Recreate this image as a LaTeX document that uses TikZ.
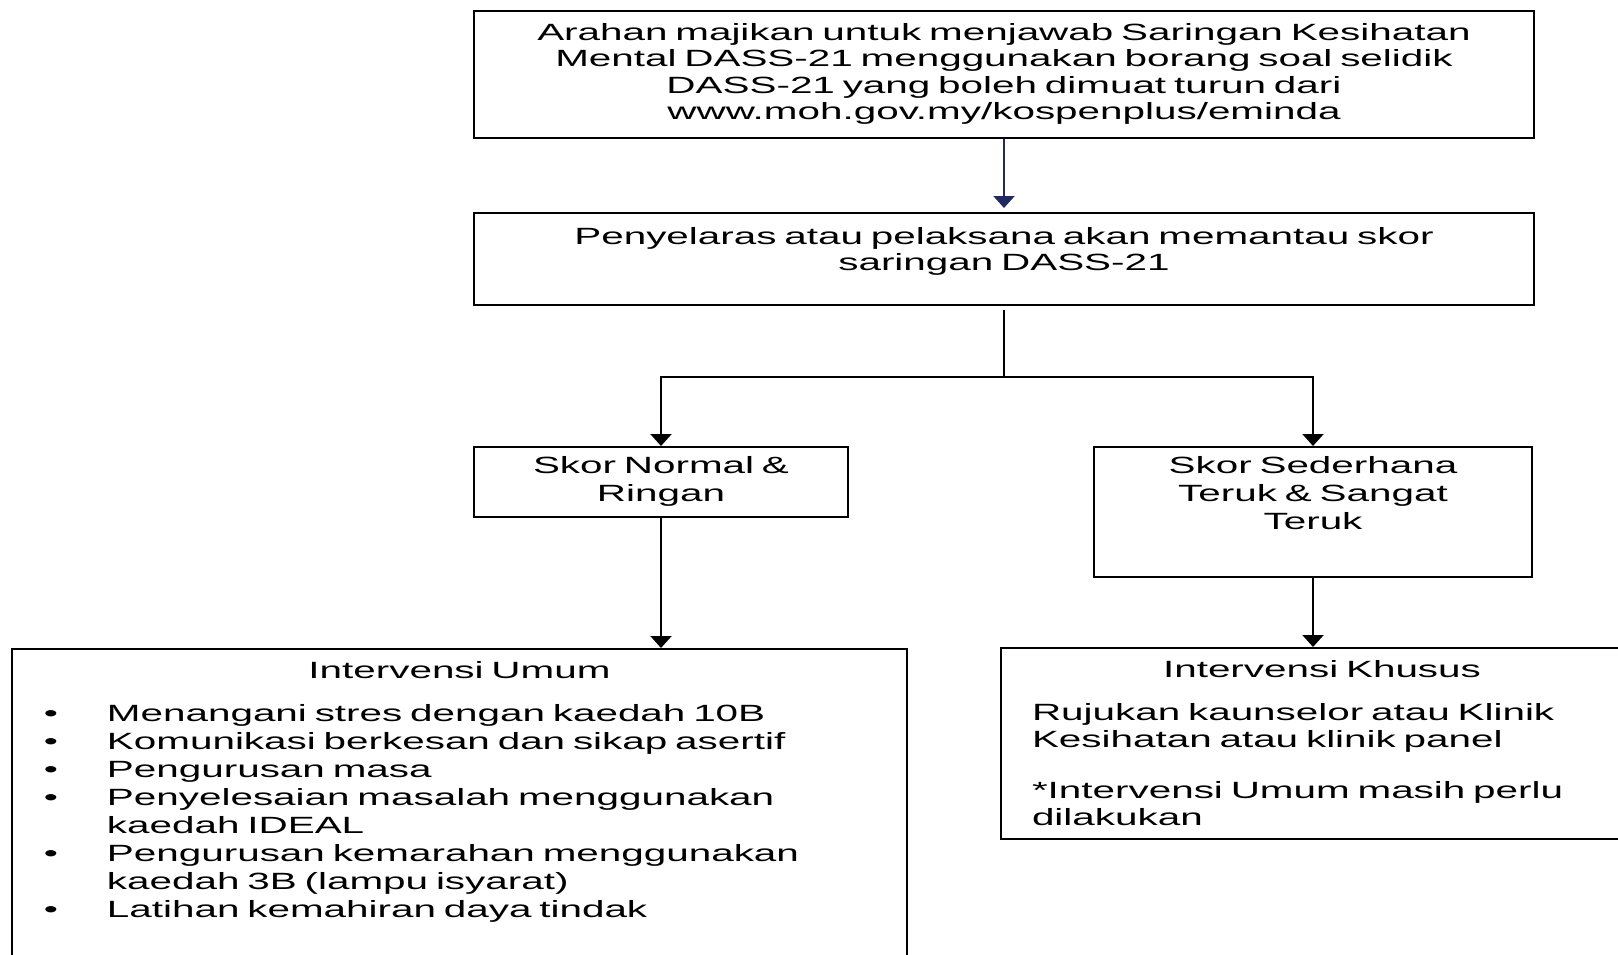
\documentclass[tikz,border=0pt]{standalone}
\usepackage{fontspec}
\setmainfont[FakeStretch=1.72]{Liberation Sans}
\usetikzlibrary{arrows.meta}
\definecolor{birugelap}{RGB}{32,42,96}
\newcommand{\butir}{\hspace*{32pt}\makebox[63pt][l]{\textbullet}}
\newcommand{\sambung}{\hspace*{95pt}}

\begin{document}
\begin{tikzpicture}[x=1pt, y=-1pt, font=\fontsize{23.5}{26.5}\selectfont,
  kotak/.style={draw, line width=2pt, inner sep=0pt, anchor=north},
  panah/.style={arrows=-{Stealth[inset=0pt, length=12pt, width=21pt]}, line width=2.2pt}]
\useasboundingbox (0,0) rectangle (1618,954);
\clip (0,0) rectangle (1618,954);
\node  (1)[kotak, text width=1060pt, align=center, text height=29pt, text depth=98pt] at (1004,10) {Arahan majikan untuk menjawab Saringan Kesihatan\\ Mental DASS-21 menggunakan borang soal selidik\\ DASS-21 yang boleh dimuat turun dari\\ www.moh.gov.my/kospenplus/eminda};
\node  (2)[kotak, text width=1060pt, align=center, text height=31pt, text depth=61pt] at (1004,212) {Penyelaras atau pelaksana akan memantau skor\\ saringan DASS-21};
\node  (3)[kotak, text width=374pt, align=center, text height=26pt, text depth=44pt, font=\fontsize{23.5}{28}\selectfont] at (661,446) {Skor Normal \&\\ Ringan};
\node  (4)[kotak, text width=438pt, align=center, text height=26pt, text depth=104pt, font=\fontsize{23.5}{28}\selectfont] at (1313,446) {Skor Sederhana\\ Teruk \& Sangat\\ Teruk};
\node  (5)[kotak, text width=895pt, align=left, text height=29pt, text depth=330pt, font=\fontsize{23.5}{28}\selectfont] at (459.5,648) {\makebox[\linewidth]{Intervensi Umum}\\[15pt]
  \butir Menangani stres dengan kaedah 10B\\
  \butir Komunikasi berkesan dan sikap asertif\\
  \butir Pengurusan masa\\
  \butir Penyelesaian masalah menggunakan\\
  \sambung kaedah IDEAL\\
  \butir Pengurusan kemarahan menggunakan\\
  \sambung kaedah 3B (lampu isyarat)\\
  \butir Latihan kemahiran daya tindak};
\node  (6)[kotak, inner xsep=31pt, text width=580pt, align=left, text height=29pt, text depth=162pt] at (1322,647) {\makebox[\linewidth]{Intervensi Khusus}\\[17pt]
  Rujukan kaunselor atau Klinik\\
  Kesihatan atau klinik panel\\[25pt]
  *Intervensi Umum masih perlu\\
  dilakukan};
\coordinate (c) at (1004,377);
\draw[panah, color=birugelap, shorten >=4pt] (1) -- (2);
\draw[line width=2.2pt, shorten <=4pt] (2) -- (c);
\draw[panah] (c) -| (3);
\draw[panah] (c) -| (4);
\draw[panah] (3) -- (3 |- 5.north);
\draw[panah] (4) -- (4 |- 6.north);
\end{tikzpicture}
\end{document}
